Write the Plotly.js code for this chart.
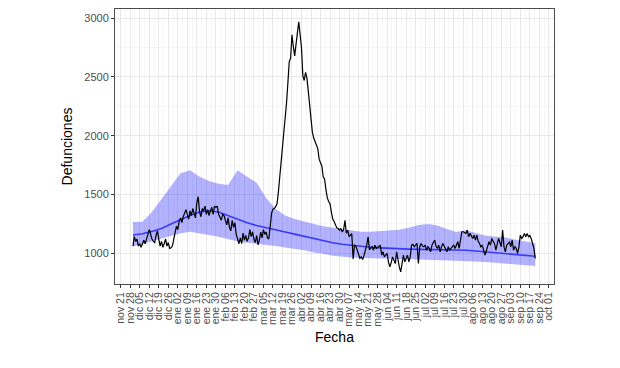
<!DOCTYPE html>
<html>
<head>
<meta charset="utf-8">
<script src="https://cdn.plot.ly/plotly-3.0.1.min.js"></script>
<style>html,body{margin:0;padding:0;background:#fff;}</style>
</head>
<body>
<div id="chart" style="width:620px;height:368px;"></div>
<script>
// ---- Data ----
const fechaInicio = '2019-11-30';      // first daily observation
const pasoEsperadas = 7;                // days between expected-band samples
const inicioEtiquetas = '2019-11-21';   // first weekly tick

const defunciones = [
  1060, 1140, 1100, 1120, 1060, 1080, 1050, 1090, 1110, 1080,
  1130, 1160, 1200, 1150, 1120, 1100, 1090, 1150, 1190, 1120,
  1060, 1100, 1050, 1080, 1120, 1060, 1090, 1040, 1045, 1060,
  1120, 1180, 1230, 1200, 1270, 1300, 1260, 1310, 1340, 1370,
  1330, 1290, 1360, 1320, 1380, 1340, 1300, 1430, 1480, 1350,
  1310, 1380, 1360, 1400, 1330, 1370, 1320, 1360, 1390, 1330,
  1400, 1390, 1400, 1330, 1300, 1280, 1330, 1320, 1280, 1240,
  1300, 1220, 1190, 1280, 1220, 1260, 1160, 1120, 1080, 1130,
  1080, 1170, 1110, 1150, 1100, 1130, 1200, 1140, 1180, 1120,
  1090, 1150, 1070, 1110, 1180, 1130, 1200, 1160, 1180, 1130,
  1120, 1230, 1340, 1375, 1380, 1395, 1420, 1520, 1640, 1780,
  1905, 2000, 2100, 2280, 2450, 2630, 2660, 2860, 2760, 2680,
  2780, 2880, 2970, 2860, 2750, 2510, 2470, 2540, 2490, 2380,
  2250, 2160, 2030, 1980, 1950, 1920, 1890, 1800, 1760, 1740,
  1650, 1630, 1540, 1470, 1440, 1420, 1350, 1290, 1270, 1235,
  1215, 1210, 1195, 1210, 1180, 1200, 1280, 1170, 1195, 1140,
  1150, 1165, 950, 1070, 1060, 1020, 1000, 955, 968, 945,
  980, 1025, 1068, 1139, 1030, 1040, 1054, 1025, 1068, 1040,
  1050, 1054, 1068, 983, 1011, 968, 980, 997, 926, 883,
  920, 968, 940, 911, 1011, 940, 880, 841, 926, 983,
  926, 960, 983, 926, 968, 1068, 1075, 1054, 1070, 1082,
  911, 1054, 1082, 1060, 1054, 1068, 1025, 1054, 1040, 1011,
  1068, 1097, 1111, 1060, 1040, 1068, 1011, 1054, 1082, 1060,
  1040, 1011, 1054, 1025, 1040, 1054, 1068, 1040, 1080, 1097,
  1040, 1125, 1182, 1182, 1175, 1168, 1196, 1139, 1168, 1140,
  1125, 1153, 1111, 1153, 1100, 1082, 1054, 1068, 1025, 983,
  1020, 1054, 1097, 1068, 1125, 1100, 1082, 1025, 1082, 1125,
  1090, 1054, 1196, 1054, 1011, 1068, 1080, 1097, 1054, 1111,
  1025, 1054, 1040, 997, 1054, 1153, 1125, 1140, 1168, 1139,
  1168, 1139, 1150, 1125, 1082, 1040, 954
];

const esperadas = [
  1155, 1165, 1185, 1210, 1248, 1285, 1320, 1350, 1360, 1350,
  1320, 1285, 1258, 1235, 1215, 1197, 1180, 1162, 1143, 1122,
  1105, 1088, 1075, 1065, 1056, 1050, 1045, 1040, 1036, 1034,
  1032, 1031, 1030, 1029, 1027, 1024, 1018, 1011, 1005, 1000,
  995, 985, 976, 973
];

const limiteSuperior = [
  1265, 1268, 1350, 1460, 1570, 1680, 1705, 1650, 1615, 1590,
  1580, 1705, 1650, 1600, 1470, 1375, 1320, 1290, 1270, 1250,
  1228, 1215, 1205, 1192, 1182, 1182, 1188, 1195, 1200, 1215,
  1240, 1248, 1235, 1205, 1180, 1195, 1170, 1150, 1142, 1135,
  1118, 1105, 1090, 1085
];

const limiteInferior = [
  1056, 1080, 1100, 1125, 1150, 1170, 1183, 1172, 1155, 1140,
  1120, 1098, 1088, 1080, 1072, 1060, 1048, 1038, 1025, 1005,
  995, 978, 968, 962, 958, 955, 952, 950, 948, 946,
  945, 944, 942, 940, 936, 932, 928, 924, 918, 912,
  906, 898, 892, 890
];

const etiquetasX = [
  'nov 21', 'nov 28', 'dic 05', 'dic 12', 'dic 19', 'dic 26', 'ene 02', 'ene 09',
  'ene 16', 'ene 23', 'ene 30', 'feb 06', 'feb 13', 'feb 20', 'feb 27', 'mar 05',
  'mar 12', 'mar 19', 'mar 26', 'abr 02', 'abr 09', 'abr 16', 'abr 23', 'abr 30',
  'may 07', 'may 14', 'may 21', 'may 28', 'jun 04', 'jun 11', 'jun 18', 'jun 25',
  'jul 02', 'jul 09', 'jul 16', 'jul 23', 'jul 30', 'ago 06', 'ago 13', 'ago 20',
  'ago 27', 'sep 03', 'sep 10', 'sep 17', 'sep 24', 'oct 01'
];
const valoresY = [1000, 1500, 2000, 2500, 3000];

// ---- Helpers ----
function fecha(base, n) {
  const d = new Date(base + 'T00:00:00Z');
  d.setUTCDate(d.getUTCDate() + n);
  return d.toISOString().slice(0, 10);
}
const ultimoDia = defunciones.length - 1;
const xDiario = defunciones.map((_, i) => fecha(fechaInicio, i));
const xSemanal = esperadas.map((_, i) => fecha(fechaInicio, Math.min(i * pasoEsperadas, ultimoDia)));
const tickVals = etiquetasX.map((_, i) => fecha(inicioEtiquetas, i * 7));

const traces = [
  { x: xSemanal, y: limiteInferior, type: 'scatter', mode: 'lines',
    line: { width: 0, color: 'rgba(0,0,0,0)' }, hoverinfo: 'skip' },
  { x: xSemanal, y: limiteSuperior, type: 'scatter', mode: 'lines', fill: 'tonexty',
    fillcolor: 'rgba(0,0,255,0.3)', line: { width: 0, color: 'rgba(0,0,0,0)' }, hoverinfo: 'skip' },
  { x: xSemanal, y: esperadas, type: 'scatter', mode: 'lines',
    line: { width: 1.6, color: '#3a3af5' } },
  { x: xDiario, y: defunciones, type: 'scatter', mode: 'lines',
    line: { width: 1.2, color: '#000000' } }
];

const DAY = 86400000;
const layout = {
  width: 620, height: 368,
  margin: { l: 115, r: 66, t: 9, b: 84 },
  paper_bgcolor: '#ffffff', plot_bgcolor: '#ffffff',
  showlegend: false,
  font: { family: 'Liberation Sans, Arial, sans-serif', color: '#4d4d4d', size: 11 },
  xaxis: {
    type: 'date',
    range: ['2019-11-16 19:00', '2020-10-04 19:00'],
    tickmode: 'array', tickvals: tickVals, ticktext: etiquetasX,
    tickangle: -90, ticks: 'outside', ticklen: 3, tickcolor: '#333333', tickwidth: 1,
    tickfont: { size: 10.5, color: '#4d4d4d' },
    showgrid: true, gridcolor: '#e8e8e8', gridwidth: 1,
    minor: { dtick: 3.5 * DAY, tick0: '2019-11-21', showgrid: true, gridcolor: '#f1f1f1', gridwidth: 0.6, ticks: '' },
    showline: true, mirror: true, linecolor: '#4d4d4d', linewidth: 1,
    zeroline: false,
    title: { text: 'Fecha', font: { size: 14, color: '#000000' }, standoff: 6 }
  },
  yaxis: {
    range: [737, 3079],
    tickmode: 'array', tickvals: valoresY, ticktext: valoresY.map(String),
    ticks: 'outside', ticklen: 3, tickcolor: '#333333', tickwidth: 1,
    tickfont: { size: 11, color: '#4d4d4d' },
    showgrid: true, gridcolor: '#e8e8e8', gridwidth: 1,
    minor: { dtick: 250, tick0: 0, showgrid: true, gridcolor: '#f1f1f1', gridwidth: 0.6, ticks: '' },
    showline: true, mirror: true, linecolor: '#4d4d4d', linewidth: 1,
    zeroline: false,
    title: { text: 'Defunciones', font: { size: 14, color: '#000000' }, standoff: 8 }
  }
};

Plotly.newPlot('chart', traces, layout, { staticPlot: true, displayModeBar: false });
</script>
</body>
</html>
